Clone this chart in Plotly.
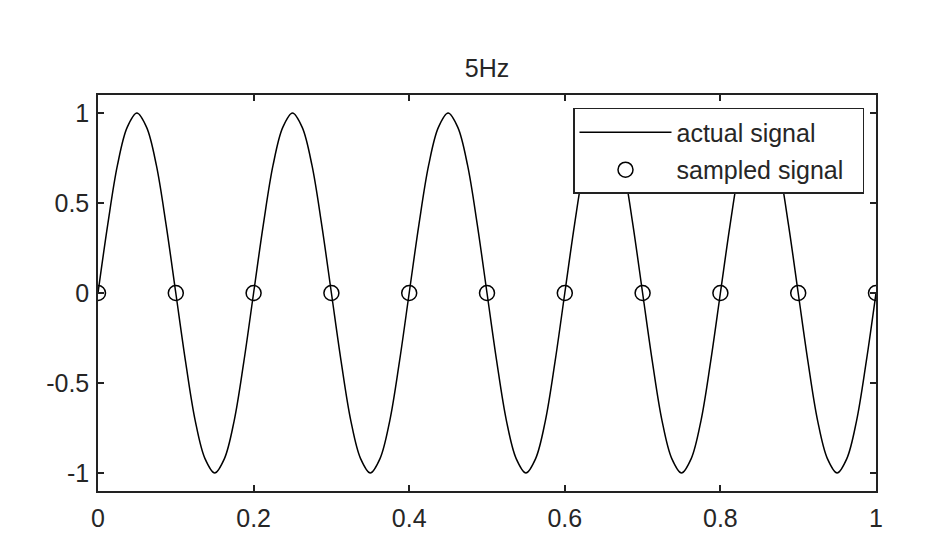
import plotly.graph_objects as go

# actual signal (every 0.0125 s)
t_actual = [0.0000, 0.0125, 0.0250, 0.0375, 0.0500, 0.0625, 0.0750, 0.0875,
            0.1000, 0.1125, 0.1250, 0.1375, 0.1500, 0.1625, 0.1750, 0.1875,
            0.2000, 0.2125, 0.2250, 0.2375, 0.2500, 0.2625, 0.2750, 0.2875,
            0.3000, 0.3125, 0.3250, 0.3375, 0.3500, 0.3625, 0.3750, 0.3875,
            0.4000, 0.4125, 0.4250, 0.4375, 0.4500, 0.4625, 0.4750, 0.4875,
            0.5000, 0.5125, 0.5250, 0.5375, 0.5500, 0.5625, 0.5750, 0.5875,
            0.6000, 0.6125, 0.6250, 0.6375, 0.6500, 0.6625, 0.6750, 0.6875,
            0.7000, 0.7125, 0.7250, 0.7375, 0.7500, 0.7625, 0.7750, 0.7875,
            0.8000, 0.8125, 0.8250, 0.8375, 0.8500, 0.8625, 0.8750, 0.8875,
            0.9000, 0.9125, 0.9250, 0.9375, 0.9500, 0.9625, 0.9750, 0.9875,
            1.0000]
y_actual = [0, 0.38, 0.71, 0.92, 1, 0.92, 0.71, 0.38, 0, -0.38, -0.71, -0.92, -1, -0.92, -0.71, -0.38,
            0, 0.38, 0.71, 0.92, 1, 0.92, 0.71, 0.38, 0, -0.38, -0.71, -0.92, -1, -0.92, -0.71, -0.38,
            0, 0.38, 0.71, 0.92, 1, 0.92, 0.71, 0.38, 0, -0.38, -0.71, -0.92, -1, -0.92, -0.71, -0.38,
            0, 0.38, 0.71, 0.92, 1, 0.92, 0.71, 0.38, 0, -0.38, -0.71, -0.92, -1, -0.92, -0.71, -0.38,
            0, 0.38, 0.71, 0.92, 1, 0.92, 0.71, 0.38, 0, -0.38, -0.71, -0.92, -1, -0.92, -0.71, -0.38,
            0]

# sampled signal
t_sampled = [0.0, 0.1, 0.2, 0.3, 0.4, 0.5, 0.6, 0.7, 0.8, 0.9, 1.0]
y_sampled = [0, 0, 0, 0, 0, 0, 0, 0, 0, 0, 0]

x_ticks = [0, 0.2, 0.4, 0.6, 0.8, 1]
x_ticklabels = ["0", "0.2", "0.4", "0.6", "0.8", "1"]
y_ticks = [-1, -0.5, 0, 0.5, 1]
y_ticklabels = ["-1", "-0.5", "0", "0.5", "1"]

FONT = "Liberation Sans, Arial, sans-serif"
FS = 25
TXT = "#262626"

# page has an 8px body margin; figure coordinates = page - 8
W, H = 936, 536
L, R, T, B = 90, 68, 87, 50
PW, PH = W - L - R, H - T - B

fig = go.Figure()
fig.add_trace(go.Scatter(x=t_actual, y=y_actual, mode="lines", name="actual signal",
                         legendgroup="a",
                         line=dict(color="black", width=1.5, shape="spline", smoothing=1)))
fig.add_trace(go.Scatter(x=t_sampled, y=y_sampled, mode="markers",
                         name="sampled signal\u00a0\u00a0",
                         legendgroup="b",
                         marker=dict(symbol="circle-open", size=15, color="black",
                                     line=dict(width=1.5, color="black"))))

axis_common = dict(showline=True, linecolor="#222", linewidth=1.5, mirror="ticks",
                   ticks="inside", ticklen=6, tickcolor="#222", tickwidth=1.5,
                   showgrid=False, zeroline=False,
                   tickfont=dict(family=FONT, size=FS, color=TXT))

fig.update_layout(
    width=W, height=H,
    margin=dict(l=L, r=R, t=T, b=B),
    paper_bgcolor="white", plot_bgcolor="white",
    title=dict(text="5Hz", x=(L + PW / 2) / W, xanchor="center",
               y=1 - 60 / H, yanchor="middle",
               font=dict(family=FONT, size=FS, color=TXT)),
    xaxis=dict(range=[0, 1], tickvals=x_ticks, ticktext=x_ticklabels,
               ticklabelstandoff=4, **axis_common),
    yaxis=dict(range=[-1.1, 1.1], tickvals=y_ticks, ticktext=y_ticklabels,
               ticklabelstandoff=2, **axis_common),
    showlegend=True,
    legend=dict(x=(573 - 98) / PW, y=(494 - 108) / PH, xanchor="left", yanchor="top",
                bordercolor="#222", borderwidth=1.5, bgcolor="white",
                itemwidth=92, traceorder="grouped", tracegroupgap=2,
                font=dict(family=FONT, size=FS, color=TXT)),
)

fig.write_html("out.html")
